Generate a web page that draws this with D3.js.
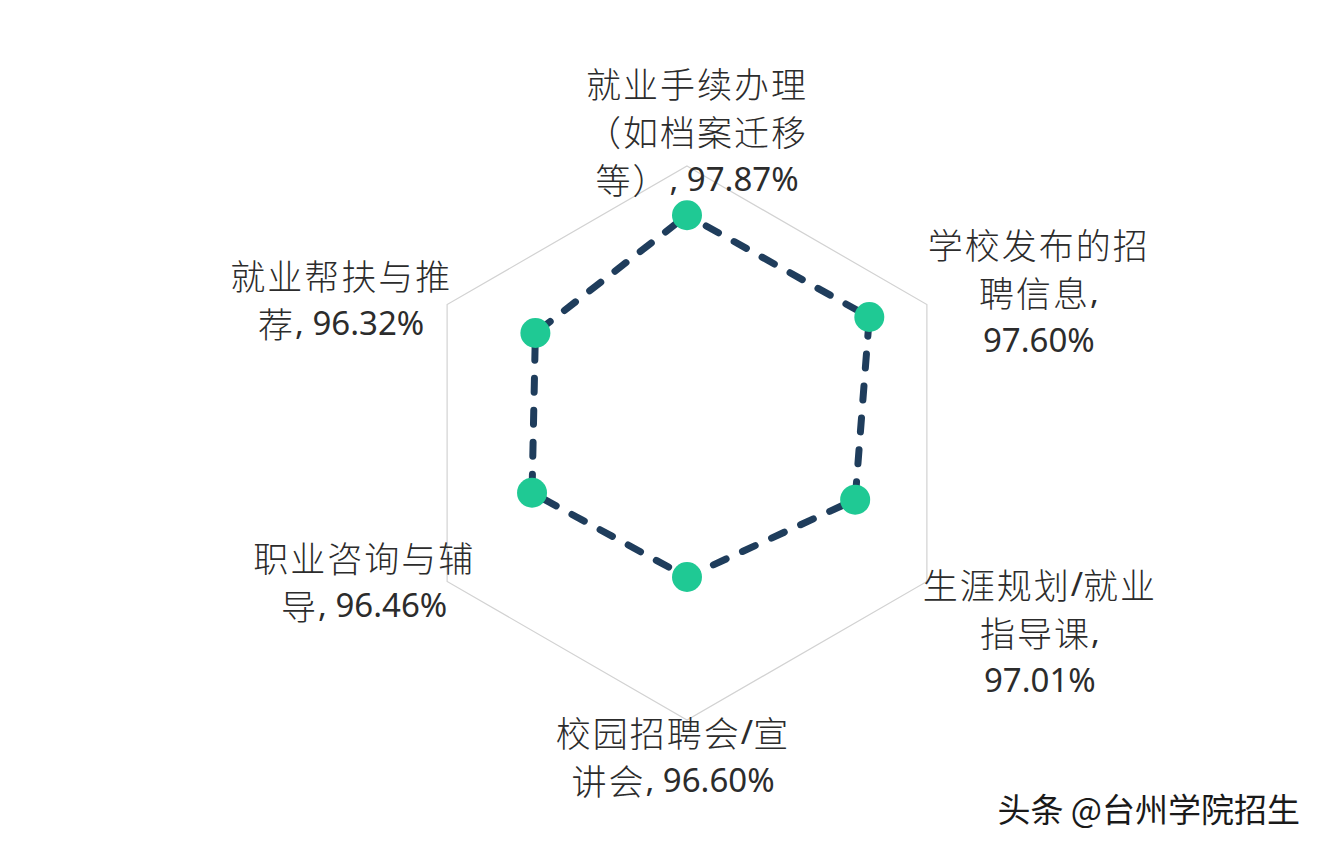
<!DOCTYPE html>
<html>
<head>
	<meta charset="utf-8">
	<title>Radar</title>
	<script type="text/javascript" src="https://cdn.jsdelivr.net/npm/d3@7"></script>
	<style>
		body {
			margin: 0;
			background: #fff;
			font-family: "Noto Sans", "Noto Sans CJK SC", sans-serif;
		}
	</style>
</head>

<body>

	<div id="chart"></div>

	<script>

	// data

	const categories = [
		"就业手续办理（如档案迁移等）",
		"学校发布的招聘信息",
		"生涯规划/就业指导课",
		"校园招聘会/宣讲会",
		"职业咨询与辅导",
		"就业帮扶与推荐",
	];
	const values = [97.87, 97.60, 97.01, 96.60, 96.46, 96.32];
	const valueDomain = [90, 100];
	const watermark = "头条 @台州学院招生";

	// layout

	const width  = 1326;
	const height = 850;
	const gridCenter = { x: 687, y: 443 };
	const gridR = 277;
	const plotCenter = { x: 687, y: 412 };
	const plotRx = 277;
	const plotRy = 250;
	const labelK = { x: 1.45, y: 1.13 };
	const labelNudge = [[10, 0], [4, 5], [5, 31], [-14, -1], [25, -20], [2, 12]];
	const fontSize = 33;
	const cjkSize = 35;
	const lineGap = 48;
	const colors = { line: "#1f3d5c", dot: "#1fc994", grid: "#d2d2d2", text: "#2c2c2c" };

	const svg = d3.select("#chart")
		.append("svg")
		.attr("width", width)
		.attr("height", height)
		.attr("viewBox", [0, 0, width, height]);

	const n = categories.length;
	const angle = d3.scaleLinear().domain([0, n]).range([0, 2 * Math.PI]);
	const r = d3.scaleLinear().domain(valueDomain).range([0, 1]);

	// outer ring
	const ring = d3.range(n).map(i => [
		gridCenter.x + Math.sin(angle(i)) * gridR,
		gridCenter.y - Math.cos(angle(i)) * gridR
	]);
	svg.append("path")
		.attr("d", d3.line().curve(d3.curveLinearClosed)(ring))
		.attr("fill", "none")
		.attr("stroke", colors.grid)
		.attr("stroke-width", 1.2);

	// series
	const px = (d, i) => plotCenter.x + Math.sin(angle(i)) * r(d) * plotRx;
	const py = (d, i) => plotCenter.y - Math.cos(angle(i)) * r(d) * plotRy;

	svg.append("path")
		.datum(values)
		.attr("d", d3.line().x(px).y(py).curve(d3.curveLinearClosed))
		.attr("fill", "none")
		.attr("stroke", colors.line)
		.attr("stroke-width", 7)
		.attr("stroke-linecap", "round")
		.attr("stroke-dasharray", "14,18")
		.attr("stroke-dashoffset", -22);

	svg.append("g")
		.selectAll("circle")
		.data(values)
		.join("circle")
		.attr("cx", px)
		.attr("cy", py)
		.attr("r", 15)
		.attr("fill", colors.dot);

	// labels: "category, value%" wrapped like the original text box
	const isCJK = ch => /[\u3000-\u9fff\uff00-\uffef]/.test(ch);

	function wrap(text, maxUnits) {
		const tokens = text.match(/[\u3000-\u9fff\uff00-\uffef]|[^\s\u3000-\u9fff\uff00-\uffef]+|\s+/g);
		const unit = t => isCJK(t) ? 1 : t.length * 0.5;
		const lines = [];
		let cur = "", w = 0;
		tokens.forEach(t => {
			if (cur && !/^\s+$/.test(t) && w + unit(t) > maxUnits) {
				lines.push(cur.trim());
				cur = ""; w = 0;
			}
			if (!cur && /^\s+$/.test(t)) return;
			cur += t; w += unit(t);
		});
		if (cur) lines.push(cur.trim());
		return lines;
	}

	const labels = svg.append("g")
		.attr("fill", colors.text)
		.style("font-size", fontSize + "px");

	categories.forEach((c, i) => {
		const lines = wrap(`${c}, ${values[i].toFixed(2)}%`, 6.5);
		const lx = gridCenter.x + Math.sin(angle(i)) * gridR * labelK.x + labelNudge[i][0];
		const ly = gridCenter.y - Math.cos(angle(i)) * gridR * labelK.y + labelNudge[i][1];
		lines.forEach((line, j) => {
			const t = labels.append("text")
				.attr("x", lx)
				.attr("y", ly + (j - (lines.length - 1) / 2) * lineGap)
				.attr("text-anchor", "middle")
				.attr("dominant-baseline", "central");
			const runs = line.match(/[\u3000-\u9fff\uff00-\uffef]+|[^\u3000-\u9fff\uff00-\uffef]+/g);
			runs.forEach(run => {
				const cjk = isCJK(run[0]);
				t.append("tspan")
					.attr("font-family", cjk ? "'Noto Sans CJK SC'" : "'Noto Sans', sans-serif")
					.attr("font-weight", cjk ? 300 : 400)
					.attr("font-size", cjk ? cjkSize : fontSize)
					.attr("letter-spacing", cjk ? 2 : 0)
					.text(run);
			});
		});
	});

	svg.append("text")
		.attr("x", 1300)
		.attr("y", 808)
		.attr("text-anchor", "end")
		.attr("dominant-baseline", "central")
		.attr("font-family", "'Noto Sans CJK SC', sans-serif")
		.attr("font-weight", 400)
		.attr("font-size", 33)
		.attr("fill", "#1a1a1a")
		.text(watermark);

	</script>

</body>

</html>
